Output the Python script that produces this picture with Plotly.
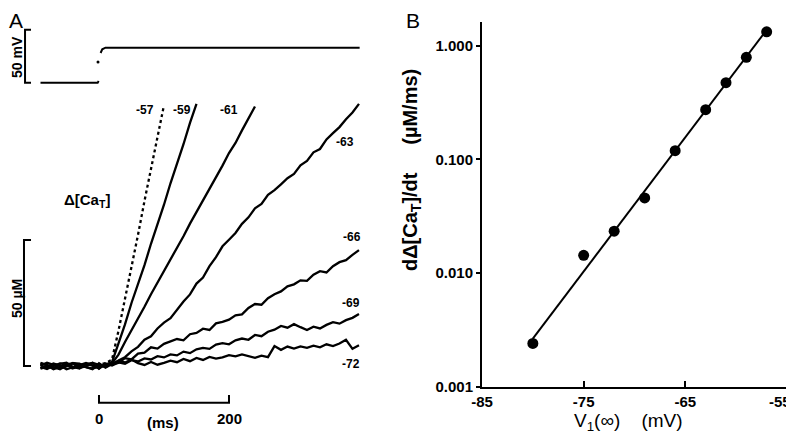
import plotly.graph_objects as go

# the page body has an 8 px margin, so the figure fills the window from (8, 8)
OFF = 8
W, H = 794 - OFF, 440 - OFF

# ---- panel A: voltage step (mV) ----
v_ms = [-90, -2, -0.5, None, 2.5, 5, 10, 401]
v_mv = [-90, -90, -88.5, None, -62, -58.5, -57, -57]
dot_ms = [-1.5]
dot_mv = [-70.5]

# ---- panel A: calcium release traces, Δ[CaT] in µM, sampled every 10 ms ----
t_ms = [-90, -80, -70, -60, -50, -40, -30, -20, -10, 0, 10, 20, 30, 40, 50,
        60, 70, 80, 90, 100, 110, 120, 130, 140, 150, 160, 170, 180, 190, 200,
        210, 220, 230, 240, 250, 260, 270, 280, 290, 300, 310, 320, 330, 340,
        350, 360, 370, 380, 390, 400]

ca_57 = [0.6, -0.9, 1.1, -0.5, 0.9, -1.2, 0.3, 1.0, -0.7, 0.5, 1.2,
         2.5, 14.0, 26.5, 39.5, 52.0, 65.5, 78.0, 91.0, 103.5]
ca_59 = [-0.8, 0.2, -1.1, 0.9, 1.3, -0.4, -1.0, 0.8, 0.1, -0.6, 0.6,
         1.5, 9.0, 16.5, 25.0, 32.5, 40.0, 48.5, 56.0, 64.0, 72.5, 80.0,
         88.0, 96.5, 104.0]
ca_61 = [1.2, 0.4, -0.5, -1.3, 0.2, 1.0, -0.8, -0.1, 1.3, 0.3, -0.4,
         1.0, 4.5, 9.5, 14.0, 19.0, 23.5, 28.5, 33.0, 37.5, 42.0, 47.0,
         51.5, 56.5, 61.0, 65.5, 70.0, 75.0, 79.5, 84.5, 88.5, 93.5, 98.0,
         103.0]
ca_63 = [-1.1, -0.3, 1.0, 0.2, -1.3, -0.5, 0.6, 1.2, 0.3, -1.0, 0.8,
         0.5, 2.2, 3.5, 5.8, 7.6, 10.4, 11.8, 14.9, 17.2, 19.0,
         22.3, 25.6, 28.4, 32.7, 35.1, 39.6, 43.2, 47.5, 50.1, 52.8,
         56.4, 59.0, 62.6, 64.3, 67.9, 69.8, 72.1, 74.5, 76.2, 79.6,
         81.4, 84.8, 86.1, 89.9, 92.4, 94.8, 97.9, 100.6, 104.0]
ca_66 = [0.2, 1.3, 0.5, -0.9, -0.2, 1.2, 0.4, -0.6, -1.3, 1.1, -0.7,
         0.8, 1.2, 3.1, 2.6, 4.9, 5.3, 7.4, 6.9, 8.8, 9.6,
         10.7, 10.2, 12.6, 13.1, 14.8, 14.3, 16.9, 17.5, 18.4, 20.1,
         20.5, 23.0, 24.6, 24.3, 26.9, 28.5, 29.6, 31.6, 32.4, 34.0,
         33.8, 36.2, 37.6, 37.1, 39.6, 41.2, 42.0, 44.1, 46.0]
ca_69 = [-0.4, -1.2, 0.1, 1.0, 0.5, -0.9, -0.2, 0.7, 1.2, -1.1, 1.0,
         0.2, 1.4, 0.9, 2.3, 1.8, 3.0, 2.6, 3.9, 3.4, 4.6,
         4.2, 5.7, 5.1, 6.6, 7.2, 6.8, 8.5, 9.1, 8.6, 10.2,
         10.9, 10.4, 12.3, 11.8, 13.6, 14.4, 15.9, 15.2, 16.6, 15.4,
         14.3, 15.6, 14.9, 16.3, 17.4, 16.8, 18.2, 19.1, 20.6]
ca_72 = [1.0, 0.3, -1.3, -0.2, 0.6, 1.1, 0.9, -0.5, -1.0, -0.3, 0.1,
         0.9, 2.0, 1.4, 2.6, 1.1, 0.4, 1.6, 0.5, 1.2, 2.1,
         1.5, 2.8, 1.9, 3.2, 2.4, 3.6, 2.9, 3.4, 4.3, 3.8,
         4.6, 3.9, 3.2, 4.1, 3.5, 7.9, 6.4, 7.7, 6.9, 7.8,
         7.2, 8.1, 7.4, 8.6, 7.9, 8.9, 10.4, 6.8, 8.2]

traces_a = [("-57", ca_57), ("-59", ca_59), ("-61", ca_61), ("-63", ca_63),
            ("-66", ca_66), ("-69", ca_69), ("-72", ca_72)]

# ---- panel B: rate of rise vs V1(inf) ----
v1_mv = [-80, -75, -72, -69, -66, -63, -61, -59, -57]
rate = [0.0024, 0.0143, 0.0233, 0.0457, 0.119, 0.273, 0.472, 0.789, 1.32]
fit_v = [-80, -57.2]
fit_rate = [0.00265, 1.30]
b_xticks = [-85, -75, -65, -55]
b_xticktext = ["-85", "-75", "-65", ""]   # "-55" sits against the edge, placed below
b_yticks = [0.001, 0.01, 0.1, 1]
b_yticktext = ["0.001", "0.010", "0.100", "1.000"]


def fx(x):
    return (x - OFF) / W


def fy(y):
    return 1 - (y - OFF) / H


FONT = "Liberation Sans, Arial, sans-serif"
NB = "\u00a0"

fig = go.Figure()

fig.add_trace(go.Scatter(x=v_ms, y=v_mv, mode="lines", yaxis="y2",
                         line=dict(color="black", width=2), connectgaps=False))
fig.add_trace(go.Scatter(x=dot_ms, y=dot_mv, mode="markers", yaxis="y2",
                         marker=dict(color="black", size=3)))

for name, vals in traces_a:
    dash = "dot" if name == "-57" else "solid"
    fig.add_trace(go.Scatter(x=t_ms[:len(vals)], y=vals, mode="lines",
                             xaxis="x", yaxis="y",
                             line=dict(color="black", width=2.3, dash=dash)))

fig.add_trace(go.Scatter(x=fit_v, y=fit_rate, mode="lines", xaxis="x2", yaxis="y3",
                         line=dict(color="black", width=2)))
fig.add_trace(go.Scatter(x=v1_mv, y=rate, mode="markers", xaxis="x2", yaxis="y3",
                         marker=dict(color="black", size=11)))

hidden = dict(visible=False, showgrid=False, zeroline=False, fixedrange=True)

fig.update_layout(
    width=W, height=H,
    margin=dict(l=0, r=0, t=0, b=0, autoexpand=False),
    paper_bgcolor="white", plot_bgcolor="white",
    showlegend=False,
    font=dict(family=FONT, color="black"),
    # time 0 at x=99 px, 0.65 px/ms; 0 µM at y=366 px, 2.52 px/µM
    xaxis=dict(domain=[fx(8), fx(397)], range=[-140.0, 458.5], anchor="y", **hidden),
    yaxis=dict(domain=[0, 1], range=[-29.37, 142.06], anchor="x", **hidden),
    # -90 mV at y=82.7 px, 1.06 px/mV
    yaxis2=dict(domain=[0, 1], range=[-427.1, -19.53], overlaying="y", anchor="x", **hidden),
    xaxis2=dict(domain=[fx(482), fx(787)], range=[-85, -55], anchor="y3",
                tickvals=b_xticks, ticktext=b_xticktext,
                ticks="inside", ticklen=6, tickwidth=1.5,
                tickcolor="black", showline=True, linewidth=2, linecolor="black",
                showgrid=False, zeroline=False, automargin=False,
                tickfont=dict(family=FONT, size=15, weight="bold")),
    yaxis3=dict(domain=[fy(386.7), fy(21.7)], type="log", range=[-3, 0.21],
                anchor="x2", tickvals=b_yticks, ticktext=b_yticktext,
                ticks="outside", ticklen=4, tickwidth=1.5, tickcolor="black",
                showline=True, linewidth=2, linecolor="black",
                showgrid=False, zeroline=False, automargin=False,
                tickfont=dict(family=FONT, size=15, weight="bold")),
)

# scale bars (data units)
bar = dict(color="black", width=2)
fig.add_shape(type="path", xref="x", yref="y2", line=bar,
              path="M -104.6,-40 L -113.8,-40 L -113.8,-90 L -104.6,-90")
fig.add_shape(type="path", xref="x", yref="y", line=bar,
              path="M -104.6,50 L -115.4,50 L -115.4,0 L -104.6,0")
fig.add_shape(type="path", xref="x", yref="y", line=bar,
              path="M 0,-11.5 L 0,-14.6 L 200,-14.6 L 200,-11.5")


def label(text, x, y, size=14, weight="bold", angle=0):
    fig.add_annotation(text=text, x=fx(x), y=fy(y), xref="paper", yref="paper",
                       xanchor="center", yanchor="middle", borderpad=0,
                       showarrow=False, textangle=angle,
                       font=dict(family=FONT, size=size, color="black", weight=weight))


label("A", 16, 20, size=21, weight="normal")
label("B", 413, 20, size=21, weight="normal")
label("50 mV", 17, 57, size=14, angle=-90)
label("50 µM", 17, 299, size=14, angle=-90)
label("Δ[Ca<sub>T</sub>]", 87, 200, size=15)
for text, x, y in [("-57", 145, 110), ("-59", 182, 110), ("-61", 229, 110),
                   ("-63", 345, 142), ("-66", 352, 237), ("-69", 351, 303),
                   ("-72", 351, 364)]:
    label(text, x, y, size=12)
label("0", 99, 418, size=15)
label("200", 229, 418, size=15)
label("(ms)", 163, 422, size=15)
label("-55", 780, 401, size=15)
label("dΔ[Ca<sub>T</sub>]/dt" + NB * 5 + "(µM/ms)", 411, 170, size=20, angle=-90)
label("V<sub>1</sub>(∞)" + NB * 4 + "(mV)", 628, 422, size=19, weight="normal")

fig.write_html("out.html")
